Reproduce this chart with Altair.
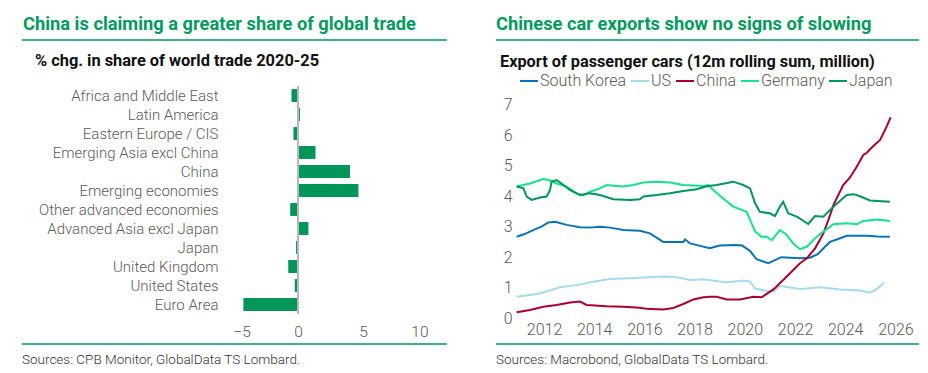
import altair as alt
import pandas as pd

# ---------------- data ----------------
regions = ["Africa and Middle East", "Latin America", "Eastern Europe / CIS",
           "Emerging Asia excl China", "China", "Emerging economies",
           "Other advanced economies", "Advanced Asia excl Japan", "Japan",
           "United Kingdom", "United States", "Euro Area"]
share_chg = [-0.5, 0.15, -0.35, 1.35, 4.0, 4.65, -0.6, 0.8, -0.15, -0.75, -0.25, -4.2]
bar_ticks = [-5, 0, 5, 10]

sk_year = [2010.91, 2011.2, 2011.57, 2011.9, 2012.17, 2012.44, 2012.9, 2013.43, 2013.83, 2014.23,
           2014.63, 2015.16, 2015.82, 2016.22, 2016.75, 2017.29, 2017.55, 2017.62, 2017.82, 2018.22,
           2018.61, 2019.0, 2019.6, 2019.9, 2020.21, 2020.47, 2020.94, 2021.2, 2021.45, 2022.2,
           2022.6, 2022.9, 2023.39, 2023.8, 2024.06, 2024.86, 2025.3, 2025.78]
sk_val = [2.67, 2.75, 2.89, 3.0, 3.14, 3.16, 3.06, 2.98, 2.97, 3.0,
          2.97, 2.89, 2.87, 2.78, 2.5, 2.5, 2.5, 2.58, 2.45, 2.37,
          2.29, 2.38, 2.40, 2.38, 2.2, 1.93, 1.80, 1.90, 2.0, 1.96,
          1.98, 2.1, 2.5, 2.62, 2.7, 2.7, 2.68, 2.67]

us_year = [2010.91, 2011.71, 2012.1, 2012.64, 2013.3, 2013.96, 2014.63, 2015.16, 2015.96, 2016.75,
           2017.29, 2017.82, 2018.35, 2019.28, 2019.94, 2020.21, 2020.41, 2020.87, 2021.14, 2021.4,
           2022.2, 2023.0, 2023.8, 2024.59, 2024.99, 2025.26, 2025.55]
us_val = [0.70, 0.79, 0.87, 1.01, 1.08, 1.19, 1.28, 1.30, 1.33, 1.36,
          1.34, 1.25, 1.27, 1.17, 1.23, 1.19, 0.97, 0.89, 0.87, 1.05,
          0.95, 1.01, 0.94, 0.90, 0.83, 0.95, 1.16]

cn_year = [2010.91, 2011.44, 2011.97, 2012.5, 2013.04, 2013.43, 2013.7, 2014.5, 2015.16, 2015.82,
           2016.09, 2016.75, 2017.15, 2017.55, 2017.95, 2018.35, 2018.61, 2018.88, 2019.28, 2019.81,
           2020.34, 2020.67, 2021.14, 2021.53, 2021.93, 2022.2, 2022.47, 2022.8, 2023.13, 2023.33,
           2023.53, 2023.92, 2024.19, 2024.46, 2024.72, 2024.86, 2025.12, 2025.39, 2025.65, 2025.81]
cn_val = [0.19, 0.26, 0.37, 0.43, 0.51, 0.54, 0.43, 0.39, 0.37, 0.34,
          0.30, 0.28, 0.33, 0.46, 0.61, 0.68, 0.70, 0.70, 0.61, 0.61,
          0.70, 0.68, 0.94, 1.25, 1.58, 1.80, 1.96, 2.29, 2.78, 3.22,
          3.71, 4.37, 4.62, 4.97, 5.36, 5.43, 5.65, 5.85, 6.29, 6.59]

de_year = [2010.91, 2011.18, 2011.44, 2011.97, 2012.24, 2012.5, 2012.9, 2013.3, 2013.56, 2013.83,
           2014.23, 2014.5, 2014.9, 2015.16, 2015.56, 2015.96, 2016.49, 2017.02, 2017.55, 2018.35,
           2018.55, 2018.75, 2019.14, 2019.54, 2020.07, 2020.27, 2020.41, 2020.67, 2020.87, 2021.07,
           2021.4, 2021.67, 2021.93, 2022.2, 2022.47, 2022.8, 2023.13, 2023.53, 2024.06, 2024.46,
           2024.72, 2025.26, 2025.78]
de_val = [4.32, 4.37, 4.42, 4.57, 4.53, 4.42, 4.32, 4.1, 4.03, 4.15,
          4.26, 4.37, 4.34, 4.32, 4.37, 4.45, 4.48, 4.45, 4.37, 4.34,
          4.37, 4.2, 3.93, 3.66, 3.49, 3.11, 2.84, 2.67, 2.67, 2.56,
          2.89, 2.73, 2.45, 2.26, 2.34, 2.62, 2.84, 3.08, 3.11, 3.08,
          3.19, 3.24, 3.19]

jp_year = [2010.91, 2011.18, 2011.31, 2011.51, 2011.84, 2012.1, 2012.24, 2012.3, 2012.5, 2012.7,
           2013.04, 2013.43, 2013.83, 2014.23, 2014.76, 2015.43, 2015.82, 2015.96, 2016.49, 2017.02,
           2017.55, 2018.08, 2018.48, 2018.88, 2019.54, 2019.94, 2020.21, 2020.41, 2020.6, 2021.0,
           2021.2, 2021.4, 2021.53, 2021.73, 2022.07, 2022.53, 2022.66, 2022.8, 2023.13, 2023.53,
           2024.06, 2024.33, 2024.59, 2024.99, 2025.78]
jp_val = [4.32, 4.26, 3.99, 3.88, 3.96, 3.99, 4.2, 4.48, 4.53, 4.42,
          4.2, 4.04, 4.1, 4.04, 3.9, 3.88, 3.9, 3.99, 4.04, 4.1,
          4.17, 4.23, 4.33, 4.37, 4.48, 4.37, 4.26, 3.77, 3.49, 3.44,
          3.35, 3.66, 3.82, 3.44, 3.33, 3.09, 3.22, 3.35, 3.33, 3.66,
          4.04, 4.07, 4.0, 3.86, 3.82]

series_names = ["South Korea", "US", "China", "Germany", "Japan"]
series_colors = ["#0b72b5", "#a6dbef", "#a8002f", "#14e38c", "#00955c"]
year_ticks = [2012, 2014, 2016, 2018, 2020, 2022, 2024, 2026]
value_ticks = [0, 1, 2, 3, 4, 5, 6, 7]

GREEN = "#009a5e"
FONT = "Roboto"
LABEL_GRAY = "#5a5a5a"

# ---------------- helpers ----------------
def one(**kw):
    return alt.Chart(pd.DataFrame([kw]))

def text(t, x, y, size, color, weight="normal", align="left"):
    return one(t=t).mark_text(font=FONT, fontSize=size, color=color, fontWeight=weight,
                              align=align, baseline="alphabetic").encode(
        text="t:N", x=alt.value(x), y=alt.value(y))

def hrule(x1, x2, y, color=GREEN, width=1.5):
    return one(a=0).mark_rule(color=color, strokeWidth=width).encode(
        x=alt.value(x1), x2=alt.value(x2), y=alt.value(y))

# ---------------- left panel ----------------
LW, LH = 195, 228
bar_df = pd.DataFrame({"region": regions, "chg": share_chg})

anchor = one(a=0).mark_rect(fill="white", opacity=0).encode(
    x=alt.value(-225), x2=alt.value(227), y=alt.value(-78), y2=alt.value(279))

bars = alt.Chart(bar_df).mark_bar(color="#00965a").encode(
    y=alt.Y("region:N", sort=regions,
            scale=alt.Scale(paddingInner=0.32, paddingOuter=0.16),
            axis=alt.Axis(title=None, ticks=False, domain=False, labelPadding=15,
                          labelFont=FONT, labelFontSize=15, labelFontWeight=300,
                          labelColor=LABEL_GRAY)),
    x=alt.X("chg:Q", scale=alt.Scale(domain=[-5, 10], nice=False, zero=True),
            axis=alt.Axis(title=None, values=bar_ticks, ticks=False, tickSize=0, domain=False,
                          grid=False, labelPadding=10, labelFont=FONT, labelFontSize=15.5,
                          labelFontWeight=300, labelColor=LABEL_GRAY)),
)
zero_rule = one(z=0).mark_rule(color="#b8b8b8", strokeWidth=2).encode(
    x=alt.X("z:Q"), y=alt.value(0), y2=alt.value(LH))

left = alt.layer(
    anchor,
    text("China is claiming a greater share of global trade", -210, -56, 18.3, GREEN, "bold"),
    hrule(-211, 214, -46),
    text("% chg. in share of world trade 2020-25", -198, -20, 16.4, "#111111", "bold"),
    bars,
    zero_rule,
    hrule(-211, 214, 258),
    text("Sources: CPB Monitor, GlobalData TS Lombard.", -211, 278, 13.5, "#333333", 300),
).properties(width=LW, height=LH)

# ---------------- right panel ----------------
RW, RH = 388, 232
PX_PER_UNIT = 30.43
frames = []
for name, xs, ys in [("South Korea", sk_year, sk_val), ("US", us_year, us_val),
                     ("China", cn_year, cn_val), ("Germany", de_year, de_val),
                     ("Japan", jp_year, jp_val)]:
    frames.append(pd.DataFrame({"series": name, "year": xs, "value": ys}))
line_df = pd.concat(frames, ignore_index=True)

lines = alt.Chart(line_df).mark_line(strokeWidth=2).encode(
    x=alt.X("year:Q", scale=alt.Scale(domain=[2010.924, 2026.382], nice=False, zero=False),
            axis=alt.Axis(title=None, values=year_ticks, format="d", ticks=False, tickSize=0,
                          domain=False, grid=False, labelPadding=3, labelFont=FONT,
                          labelFontSize=16, labelFontWeight=300, labelColor=LABEL_GRAY)),
    y=alt.Y("value:Q", scale=alt.Scale(domain=[0, RH / PX_PER_UNIT], nice=False),
            axis=alt.Axis(title=None, values=value_ticks, ticks=False, tickSize=0, domain=False,
                          grid=False, labelPadding=5, labelFont=FONT, labelFontSize=16,
                          labelFontWeight=300, labelColor=LABEL_GRAY)),
    color=alt.Color("series:N", sort=series_names,
                    scale=alt.Scale(domain=series_names, range=series_colors),
                    legend=alt.Legend(title=None, orient="none", legendX=286, legendY=-15,
                                      direction="horizontal", symbolType="stroke",
                                      symbolSize=324, symbolStrokeWidth=2, labelOffset=1,
                                      columnPadding=0, padding=0, symbolOffset=0,
                                      labelFont=FONT, labelFontSize=16, labelFontWeight=300,
                                      labelColor=LABEL_GRAY)),
    order=alt.Order("year:Q"),
)

right = alt.layer(
    text("Chinese car exports show no signs of slowing", -21, -56, 18.3, GREEN, "bold"),
    hrule(-21, 402, -46),
    text("Export of passenger cars (12m rolling sum, million)", -17, -19, 16.3, "#111111", "bold"),
    lines,
    hrule(-21, 402, 258),
    text("Sources: Macrobond, GlobalData TS Lombard.", -21, 278, 13.5, "#333333", 300),
).properties(width=RW, height=RH)

chart = alt.hconcat(left, right, spacing=89, bounds="flush").properties(
    padding=0, background="white"
).configure_view(stroke=None)

chart.save("out.html", embed_options={"renderer": "svg", "actions": False})
